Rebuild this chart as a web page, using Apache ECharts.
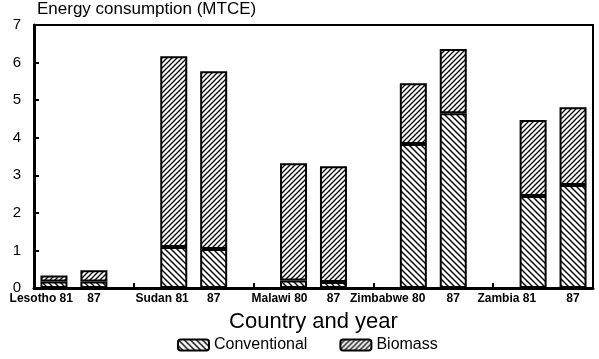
<!DOCTYPE html>
<html>
<head>
<meta charset="utf-8">
<script src="https://cdn.jsdelivr.net/npm/echarts@6/dist/echarts.min.js"></script>
<style>
html,body{margin:0;padding:0;background:#fff;}
#chart{width:599px;height:359px;}
</style>
</head>
<body>
<div id="chart"></div>
<script>
// ---- data ----
var categories = ['Lesotho 81', '87', '', 'Sudan 81', '87', '', 'Malawi 80', '87', '', 'Zimbabwe 80', '87', '', 'Zambia 81', '87'];
var conventional = [0.17, 0.17, null, 1.09, 1.04, null, 0.20, 0.16, null, 3.83, 4.65, null, 2.45, 2.74];
var biomass      = [0.16, 0.30, null, 5.08, 4.73, null, 3.12, 3.08, null, 1.62, 1.71, null, 2.02, 2.07];
var yTicks = [0, 1, 2, 3, 4, 5, 6, 7];

// ---- hatch patterns ----
function hatch(size, dir, lw) {
  var c = document.createElement('canvas');
  c.width = size; c.height = size;
  var g = c.getContext('2d');
  g.fillStyle = '#fff'; g.fillRect(0, 0, size, size);
  g.strokeStyle = '#000'; g.lineWidth = lw; g.lineCap = 'square';
  g.beginPath();
  if (dir === 'back') { // "\"
    g.moveTo(-1, -1); g.lineTo(size + 1, size + 1);
    g.moveTo(size - 1, -1); g.lineTo(size + 1, 1);
    g.moveTo(-1, size - 1); g.lineTo(1, size + 1);
  } else { // "/"
    g.moveTo(-1, size + 1); g.lineTo(size + 1, -1);
    g.moveTo(-1, 1); g.lineTo(1, -1);
    g.moveTo(size - 1, size + 1); g.lineTo(size + 1, size - 1);
  }
  g.stroke();
  return c;
}
var convPattern = {image: hatch(6, 'back', 1.4), repeat: 'repeat'};
var bioPattern = {image: hatch(5, 'fwd', 1.3), repeat: 'repeat'};

var font = 'Liberation Sans, Arial, sans-serif';

// horizontal shift (px) of the right-aligned country labels past the slot centre
var labelShift = {'Lesotho 81': 19, 'Sudan 81': 15, 'Malawi 80': 14, 'Zimbabwe 80': 12, 'Zambia 81': 3};

var xData = categories.map(function (c) {
  var first = c.length > 2;
  return {
    value: c,
    textStyle: first ? {align: 'right', padding: [0, -labelShift[c], 0, 0]} : {align: 'center'}
  };
});

var chart = echarts.init(document.getElementById('chart'), null, {renderer: 'canvas'});
chart.setOption({
  animation: false,
  backgroundColor: '#fff',
  title: {
    text: 'Energy consumption (MTCE)',
    left: 37, top: 1,
    padding: 0,
    textStyle: {fontFamily: font, fontSize: 17, fontWeight: 'normal', color: '#000'}
  },
  legend: {
    bottom: 1, left: 172,
    itemWidth: 31, itemHeight: 11, itemGap: 32,
    textStyle: {fontFamily: font, fontSize: 16, color: '#000'},
    data: ['Conventional', 'Biomass']
  },
  grid: {
    left: 34, right: 6, top: 25, bottom: 71,
    show: true, borderColor: '#000', borderWidth: 2,
    containLabel: false
  },
  xAxis: {
    type: 'category',
    data: xData,
    boundaryGap: true,
    name: 'Country and year',
    nameLocation: 'middle',
    nameGap: 23,
    nameTextStyle: {fontFamily: font, fontSize: 22, color: '#000'},
    axisLine: {lineStyle: {color: '#000', width: 3}},
    axisTick: {
      show: true, inside: true, length: 5, alignWithLabel: true,
      lineStyle: {color: '#000', width: 2},
      interval: function (i) { return categories[i] === ''; }
    },
    axisLabel: {interval: 0, margin: 5, fontFamily: font, fontSize: 12, fontWeight: 'bold', color: '#000'},
    splitLine: {show: false}
  },
  yAxis: {
    type: 'value',
    min: 0, max: 7, interval: 1,
    axisLine: {show: true, lineStyle: {color: '#000', width: 3}},
    axisTick: {show: true, inside: true, length: 5, lineStyle: {color: '#000', width: 2}},
    axisLabel: {
      margin: 13, fontFamily: font, fontSize: 15, color: '#000',
      formatter: function (v) { return yTicks.indexOf(v) >= 0 ? String(v) : ''; }
    },
    splitLine: {show: false}
  },
  series: [
    {
      name: 'Conventional', type: 'bar', stack: 'total', barWidth: 27,
      data: conventional,
      itemStyle: {color: convPattern, borderColor: '#000', borderWidth: 2}
    },
    {
      name: 'Biomass', type: 'bar', stack: 'total', barWidth: 27,
      data: biomass,
      itemStyle: {color: bioPattern, borderColor: '#000', borderWidth: 2}
    }
  ]
});
</script>
</body>
</html>
